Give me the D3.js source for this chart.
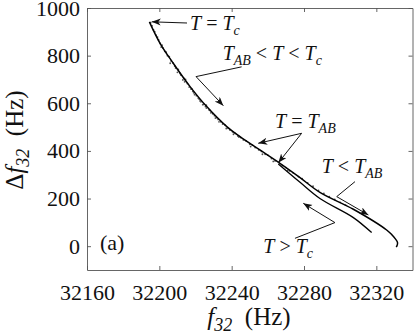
<!DOCTYPE html>
<html>
<head>
<meta charset="utf-8">
<script src="https://cdn.jsdelivr.net/npm/d3@7"></script>
<style>
body { margin: 0; background: #fff; }
</style>
</head>
<body>
<div class="container"></div>
<script>
var margin = {top: 8, right: 2.5, bottom: 65, left: 87}
    , width = 415 - margin.left - margin.right
    , height = 335 - margin.top - margin.bottom;

const serif = '"Liberation Serif", "DejaVu Serif", serif'

// TICKS
const xTicks = [32160, 32200, 32240, 32280, 32320]
const yTicks = [0, 200, 400, 600, 800, 1000]

// DATA (f32 in Hz, delta f32 in Hz)
// upper branch: through Tc down below T_AB, ends with the hook
const upperF = [32194.5, 32200.4, 32207.7, 32217.0, 32226.2, 32237.3, 32244.6, 32255.6,
                32266.7, 32277.8, 32288.8, 32307.3, 32325.7, 32328.7, 32330.3, 32331.7, 32331.4, 32330.9]
const upperDF = [942, 852, 768, 670, 586, 502, 460, 404,
                 348, 288, 226, 155, 68, 47, 33, 16, 1, -3]

// lower branch (T > Tc)
const lowerF = [32265.8, 32277.8, 32288.8, 32307.3, 32317.4]
const lowerDF = [345, 268, 200, 120, 57]

// scattered measurement points between Tc and T_AB
const scatterF = [32195.2, 32196, 32196.8, 32197.5, 32198.2, 32199, 32199.6, 32200.5, 32201.5, 32202,
                  32203, 32203.8, 32204.5, 32205.5, 32206.5, 32207.5, 32208.5, 32209, 32210.5, 32211.5,
                  32212, 32213.5, 32214.5, 32215.5, 32216.5, 32217.5, 32218.5, 32219, 32220.5, 32221.5,
                  32222.5, 32223, 32224.5, 32225.5, 32226, 32227.5, 32228.5, 32229.5, 32230.5, 32231.5,
                  32232.5, 32234, 32235, 32236.5, 32238, 32239, 32240.5, 32242, 32243.5, 32245,
                  32246.5, 32248, 32250, 32251.5, 32253, 32255, 32256.5, 32258.5, 32260, 32262,
                  32264, 32266, 32268, 32270, 32272, 32274, 32277, 32279, 32282, 32285,
                  32288, 32291, 32294, 32297, 32300, 32303,
                  32206, 32214, 32222, 32226, 32233, 32244, 32210, 32218, 32201, 32228,
                  32213, 32219.5, 32224, 32231, 32237, 32241, 32250.5, 32257, 32263, 32271]
const scatterDF = [938, 925, 908, 900, 886, 878, 866, 851, 844, 832,
                   818, 815, 800, 796, 778, 770, 756, 748, 742, 725,
                   718, 705, 700, 683, 668, 660, 650, 644, 632, 622,
                   610, 606, 596, 586, 580, 572, 560, 556, 548, 540,
                   532, 522, 513, 508, 495, 488, 480, 474, 462, 456,
                   446, 442, 428, 424, 414, 404, 398, 386, 382, 368,
                   358, 352, 338, 330, 316, 308, 292, 284, 266, 252,
                   234, 222, 208, 196, 184, 172,
                   768, 690, 618, 592, 522, 458, 730, 660, 836, 570,
                   698, 636, 594, 538, 494, 470, 418, 386, 356, 318]

// SCALES
var x = d3.scaleLinear().domain([32160, 32340]).range([0, width])
var y = d3.scaleLinear().domain([-100, 1000]).range([height, 0])

var svg = d3.select('body div.container').append("svg")
    .attr("width", width + margin.left + margin.right)
    .attr("height", height + margin.top + margin.bottom)
    .attr("font-family", serif)

svg.append("defs").append("marker")
    .attr("id", "head")
    .attr("markerUnits", "userSpaceOnUse")
    .attr("markerWidth", 11)
    .attr("markerHeight", 8)
    .attr("refX", 9)
    .attr("refY", 3.5)
    .attr("orient", "auto")
  .append("path")
    .attr("d", "M0,0 L9,3.5 L0,7 L2.5,3.5 Z")
    .attr("fill", "#111")

var g = svg.append("g")
    .attr("transform", `translate(${margin.left},${margin.top})`)

// AXES: ticks inside, box all round
const axisColor = '#555'
function styleAxis(sel) {
  sel.attr("font-family", serif)
  sel.selectAll("path, line").attr("stroke", axisColor).attr("stroke-width", 0.9)
  sel.selectAll("text").attr("font-size", 22).attr("fill", "#111")
}

g.append("g")
    .attr("transform", `translate(0,${height})`)
    .call(d3.axisBottom(x).tickValues(xTicks).tickFormat(d3.format("d"))
      .tickSizeInner(-4).tickSizeOuter(0).tickPadding(14))
    .call(styleAxis)

g.append("g")
    .call(d3.axisTop(x).tickValues(xTicks).tickFormat("")
      .tickSizeInner(-4).tickSizeOuter(0))
    .call(styleAxis)

g.append("g")
    .call(d3.axisLeft(y).tickValues(yTicks).tickFormat(d3.format("d"))
      .tickSizeInner(-4).tickSizeOuter(0).tickPadding(7))
    .call(styleAxis)

g.append("g")
    .attr("transform", `translate(${width},0)`)
    .call(d3.axisRight(y).tickValues(yTicks).tickFormat("")
      .tickSizeInner(-4).tickSizeOuter(0))
    .call(styleAxis)

// math-like labels: [text, kind], kind = i (italic), r (roman), s (subscript)
function mathText(parent, px, py, parts, size, attrs) {
  let t = parent.append("text")
      .attr("x", px).attr("y", py)
      .attr("font-size", size)
      .attr("font-family", serif)
      .attr("fill", "#111")
  if (attrs) Object.keys(attrs).forEach(function(k){ t.attr(k, attrs[k]) })
  let down = false
  parts.forEach(function(p) {
    let s = t.append("tspan").text(p[0])
    if (p[1] === 's') {
      s.attr("font-size", Math.round(size * 0.7)).attr("font-style", "italic")
      if (!down) { s.attr("dy", size * 0.25); down = true }
    } else {
      if (down) { s.attr("dy", -size * 0.25); down = false }
      if (p[1] === 'i') s.attr("font-style", "italic")
    }
  })
  return t
}

// SCATTER
g.append("g").selectAll("circle")
    .data(d3.range(scatterF.length))
    .enter().append("circle")
      .attr("cx", function(i) { return x(scatterF[i]) })
      .attr("cy", function(i) { return y(scatterDF[i]) })
      .attr("r", 0.9)
      .attr("fill", "#555")

// CURVES
var line = d3.line()
    .x(function(d) { return x(d[0]) })
    .y(function(d) { return y(d[1]) })
    .curve(d3.curveCatmullRom.alpha(0.5))

g.append("path")
    .datum(d3.zip(upperF, upperDF))
    .attr("d", line)
    .attr("fill", "none")
    .attr("stroke", "#000")
    .attr("stroke-width", 1.5)

g.append("path")
    .datum(d3.zip(lowerF, lowerDF))
    .attr("d", line)
    .attr("fill", "none")
    .attr("stroke", "#000")
    .attr("stroke-width", 1.3)

// ANNOTATIONS (data coordinates)
var ann = g.append("g")
function arrow(pts) {
  ann.append("path")
      .attr("d", d3.line().x(function(d){ return x(d[0]) }).y(function(d){ return y(d[1]) })(pts))
      .attr("fill", "none")
      .attr("stroke", "#111")
      .attr("stroke-width", 1)
      .attr("marker-end", "url(#head)")
}

arrow([[32215.3, 937], [32195.8, 942]])
mathText(ann, x(32217), y(908), [["T", "i"], [" = ", "r"], ["T", "i"], ["c", "s"]], 20)

arrow([[32245.5, 753], [32220.3, 712], [32235.4, 590]])
mathText(ann, x(32235), y(782), [["T", "i"], ["AB", "s"], [" < ", "r"], ["T", "i"], [" < ", "r"], ["T", "i"], ["c", "s"]], 20)

arrow([[32278.7, 474], [32254.7, 432]])
arrow([[32278.7, 474], [32265.8, 350]])
mathText(ann, x(32264), y(496), [["T", "i"], [" = ", "r"], ["T", "i"], ["AB", "s"]], 20)

arrow([[32308.2, 271], [32298.1, 208], [32315.6, 131]])
mathText(ann, x(32289.8), y(307), [["T", "i"], [" < ", "r"], ["T", "i"], ["AB", "s"]], 20)

arrow([[32275, 33], [32297.1, 99], [32279.6, 180]])
mathText(ann, x(32257.5), y(-28), [["T", "i"], [" > ", "r"], ["T", "i"], ["c", "s"]], 20)

mathText(ann, x(32167.2), y(-16), [["(a)", "r"]], 22)

// AXIS TITLES
mathText(svg, 249, 325, [["f", "i"], ["32", "s"], ["\u2002(Hz)", "r"]], 25, {"text-anchor": "middle"})

mathText(svg, 0, 0, [["\u0394", "r"], ["f", "i"], ["32", "s"], ["\u2002(Hz)", "r"]], 25,
    {"text-anchor": "middle", "transform": "translate(23,140) rotate(-90)"})
</script>
</body>
</html>
